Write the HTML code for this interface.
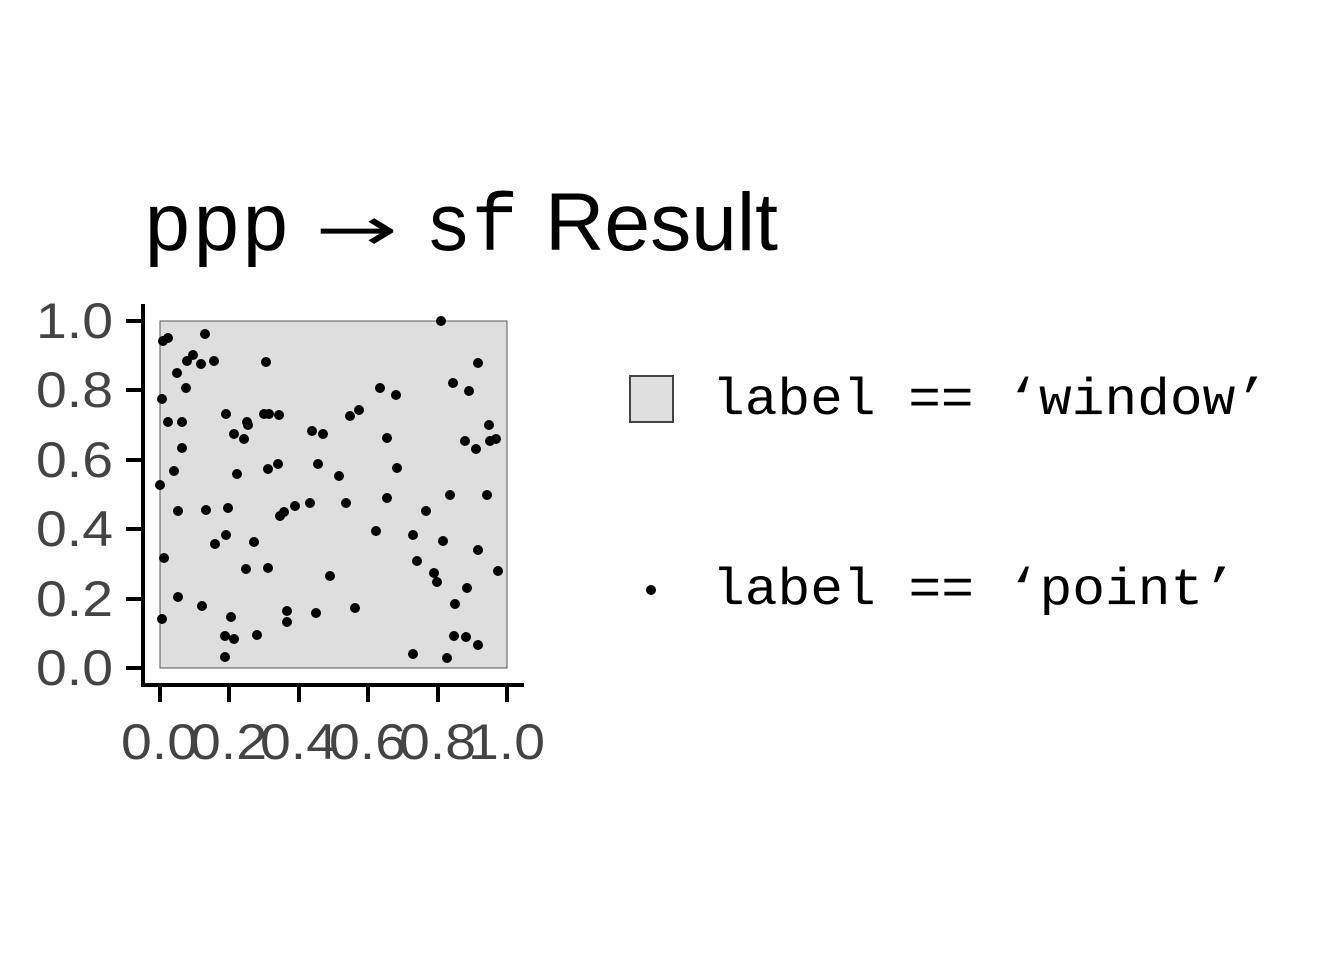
<!DOCTYPE html>
<html><head><meta charset="utf-8"><style>html,body{margin:0;padding:0;background:#fff}svg{display:block}</style></head>
<body>
<svg width="1344" height="960" viewBox="0 0 1344 960" xmlns="http://www.w3.org/2000/svg">
<rect width="1344" height="960" fill="#fff"/>
<g font-size="82" fill="#000">
<text x="143" y="250" font-family="Liberation Mono, monospace" textLength="147" lengthAdjust="spacingAndGlyphs">ppp</text>
<text x="315" y="250" font-family="DejaVu Sans, sans-serif" font-size="60" textLength="83" lengthAdjust="spacingAndGlyphs">→</text>
<text x="425" y="250" font-family="Liberation Mono, monospace" textLength="93" lengthAdjust="spacingAndGlyphs">sf</text>
<text x="545" y="250" font-family="Liberation Sans, sans-serif" textLength="233" lengthAdjust="spacingAndGlyphs">Result</text>
</g>
<rect x="160" y="321" width="347" height="347" fill="#dedede" stroke="#555" stroke-width="1"/>
<g fill="#000">
<circle cx="441" cy="321" r="5"/><circle cx="168" cy="338" r="5"/><circle cx="163" cy="341" r="5"/><circle cx="205" cy="334" r="5"/><circle cx="193" cy="355" r="5"/><circle cx="187" cy="361" r="5"/><circle cx="201" cy="364" r="5"/><circle cx="214" cy="361" r="5"/><circle cx="266" cy="362" r="5"/><circle cx="478" cy="363" r="5"/><circle cx="177" cy="373" r="5"/><circle cx="186" cy="388" r="5"/><circle cx="380" cy="388" r="5"/><circle cx="453" cy="383" r="5"/><circle cx="396" cy="395" r="5"/><circle cx="469" cy="391" r="5"/><circle cx="162" cy="399" r="5"/><circle cx="226" cy="414" r="5"/><circle cx="168" cy="422" r="5"/><circle cx="182" cy="422" r="5"/><circle cx="247" cy="422" r="5"/><circle cx="264" cy="414" r="5"/><circle cx="269" cy="414" r="5"/><circle cx="279" cy="415" r="5"/><circle cx="248" cy="425" r="5"/><circle cx="359" cy="410" r="5"/><circle cx="350" cy="416" r="5"/><circle cx="312" cy="431" r="5"/><circle cx="323" cy="434" r="5"/><circle cx="489" cy="425" r="5"/><circle cx="234" cy="434" r="5"/><circle cx="244" cy="439" r="5"/><circle cx="387" cy="438" r="5"/><circle cx="465" cy="441" r="5"/><circle cx="490" cy="441" r="5"/><circle cx="496" cy="439" r="5"/><circle cx="476" cy="449" r="5"/><circle cx="182" cy="448" r="5"/><circle cx="318" cy="464" r="5"/><circle cx="278" cy="464" r="5"/><circle cx="268" cy="469" r="5"/><circle cx="397" cy="468" r="5"/><circle cx="174" cy="471" r="5"/><circle cx="237" cy="474" r="5"/><circle cx="339" cy="476" r="5"/><circle cx="160" cy="485" r="5"/><circle cx="450" cy="495" r="5"/><circle cx="487" cy="495" r="5"/><circle cx="387" cy="498" r="5"/><circle cx="295" cy="506" r="5"/><circle cx="310" cy="503" r="5"/><circle cx="346" cy="503" r="5"/><circle cx="206" cy="510" r="5"/><circle cx="228" cy="508" r="5"/><circle cx="178" cy="511" r="5"/><circle cx="426" cy="511" r="5"/><circle cx="284" cy="512" r="5"/><circle cx="280" cy="516" r="5"/><circle cx="376" cy="531" r="5"/><circle cx="413" cy="535" r="5"/><circle cx="226" cy="535" r="5"/><circle cx="254" cy="542" r="5"/><circle cx="215" cy="544" r="5"/><circle cx="443" cy="541" r="5"/><circle cx="164" cy="558" r="5"/><circle cx="417" cy="561" r="5"/><circle cx="478" cy="550" r="5"/><circle cx="246" cy="569" r="5"/><circle cx="268" cy="568" r="5"/><circle cx="434" cy="573" r="5"/><circle cx="330" cy="576" r="5"/><circle cx="498" cy="571" r="5"/><circle cx="437" cy="582" r="5"/><circle cx="467" cy="588" r="5"/><circle cx="178" cy="597" r="5"/><circle cx="455" cy="604" r="5"/><circle cx="202" cy="606" r="5"/><circle cx="287" cy="611" r="5"/><circle cx="355" cy="608" r="5"/><circle cx="316" cy="613" r="5"/><circle cx="231" cy="617" r="5"/><circle cx="162" cy="619" r="5"/><circle cx="287" cy="622" r="5"/><circle cx="225" cy="636" r="5"/><circle cx="257" cy="635" r="5"/><circle cx="234" cy="639" r="5"/><circle cx="454" cy="636" r="5"/><circle cx="466" cy="637" r="5"/><circle cx="478" cy="645" r="5"/><circle cx="413" cy="654" r="5"/><circle cx="447" cy="658" r="5"/><circle cx="225" cy="657" r="5"/>
</g>
<g stroke="#000" stroke-width="4" fill="none">
<line x1="143" y1="304" x2="143" y2="687"/>
<line x1="141" y1="685" x2="524" y2="685"/>
<line x1="126" y1="321" x2="143" y2="321"/><line x1="126" y1="390" x2="143" y2="390"/><line x1="126" y1="460" x2="143" y2="460"/><line x1="126" y1="529" x2="143" y2="529"/><line x1="126" y1="599" x2="143" y2="599"/><line x1="126" y1="668" x2="143" y2="668"/>
<line x1="160" y1="685" x2="160" y2="702"/><line x1="229" y1="685" x2="229" y2="702"/><line x1="299" y1="685" x2="299" y2="702"/><line x1="368" y1="685" x2="368" y2="702"/><line x1="438" y1="685" x2="438" y2="702"/><line x1="507" y1="685" x2="507" y2="702"/>
</g>
<g font-family="Liberation Sans, sans-serif" font-size="50" fill="#444" text-anchor="end">
<text x="113" y="338" textLength="77" lengthAdjust="spacingAndGlyphs">1.0</text><text x="113" y="407" textLength="77" lengthAdjust="spacingAndGlyphs">0.8</text><text x="113" y="477" textLength="77" lengthAdjust="spacingAndGlyphs">0.6</text><text x="113" y="546" textLength="77" lengthAdjust="spacingAndGlyphs">0.4</text><text x="113" y="616" textLength="77" lengthAdjust="spacingAndGlyphs">0.2</text><text x="113" y="685" textLength="77" lengthAdjust="spacingAndGlyphs">0.0</text>
</g>
<g font-family="Liberation Sans, sans-serif" font-size="50" fill="#444">
<text x="121" y="759" textLength="77" lengthAdjust="spacingAndGlyphs">0.0</text><text x="190" y="759" textLength="77" lengthAdjust="spacingAndGlyphs">0.2</text><text x="260" y="759" textLength="77" lengthAdjust="spacingAndGlyphs">0.4</text><text x="329" y="759" textLength="77" lengthAdjust="spacingAndGlyphs">0.6</text><text x="399" y="759" textLength="77" lengthAdjust="spacingAndGlyphs">0.8</text><text x="468" y="759" textLength="77" lengthAdjust="spacingAndGlyphs">1.0</text>
</g>
<rect x="630" y="376" width="43" height="46" fill="#dedede" stroke="#444" stroke-width="2"/>
<circle cx="651" cy="590" r="5" fill="#000"/>
<g font-family="Liberation Mono, monospace" font-size="52" fill="#000">
<text x="712" y="414" textLength="556" lengthAdjust="spacingAndGlyphs">label == ‘window’</text>
<text x="712" y="604" textLength="524" lengthAdjust="spacingAndGlyphs">label == ‘point’</text>
</g>
</svg>
</body></html>
